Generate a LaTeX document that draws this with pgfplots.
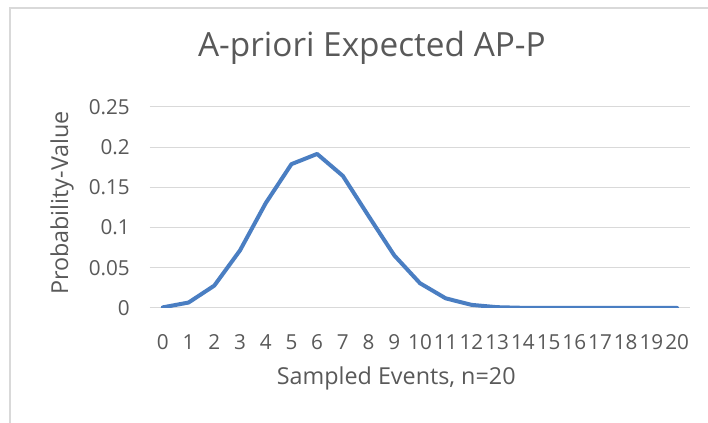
\documentclass[border=0pt]{standalone}
\usepackage{fontspec}
\setmainfont{Open Sans}
\usepackage{pgfplots}
\pgfplotsset{compat=1.18}
\definecolor{txt}{HTML}{595959}
\definecolor{grd}{HTML}{D9D9D9}
\definecolor{ln}{HTML}{4A7EC2}
\begin{document}
\begin{tikzpicture}
\useasboundingbox (0,0) rectangle (531pt,317.25pt);
\fill[white] (0,0) rectangle (531pt,317.25pt);
\draw[grd, line width=1pt] (7.5pt,0) -- (7.5pt,311.25pt) -- (531pt,311.25pt);
\begin{axis}[
  at={(112.5pt,86.25pt)}, anchor=south west,
  scale only axis, width=405pt, height=150.75pt,
  xmin=-0.5, xmax=20.5, ymin=0, ymax=0.25,
  axis line style={draw=none},
  ymajorgrids, grid style={grd, line width=0.75pt},
  xtick={0,...,20},
  ytick={0,0.05,0.1,0.15,0.2,0.25},
  yticklabels={0,0.05,0.1,0.15,0.2,0.25},
  major tick length=0pt,
  tick label style={font=\fontsize{15.5}{17}\selectfont, text=txt},
  /pgf/number format/assume math mode=true,
  yticklabel style={anchor=east, inner sep=0pt, xshift=-15pt},
  xticklabel style={anchor=north, inner sep=0pt, yshift=-20pt},
  title={A-priori Expected AP-P},
  title style={at={(axis description cs:0.411,1.254)}, anchor=center, font=\fontsize{25}{30}\selectfont, text=txt},
  xlabel={Sampled Events, n=20},
  xlabel style={at={(axis description cs:0.456,-0.348)}, anchor=center, font=\fontsize{17.5}{20}\selectfont, text=txt},
  ylabel={Probability-Value},
  ylabel style={at={(axis description cs:-0.163,0.522)}, anchor=center, rotate=0, font=\fontsize{17.5}{20}\selectfont, text=txt},
]
\addplot[ln, line width=3pt, line join=round, line cap=round] coordinates {
(0,0.0008) (1,0.0068) (2,0.0278) (3,0.0716) (4,0.1304) (5,0.1789) (6,0.1916)
(7,0.1643) (8,0.1144) (9,0.0654) (10,0.0308) (11,0.0120) (12,0.0039) (13,0.0010)
(14,0.0002) (15,0.00004) (16,0) (17,0) (18,0) (19,0) (20,0)
};
\end{axis}
\end{tikzpicture}
\end{document}
